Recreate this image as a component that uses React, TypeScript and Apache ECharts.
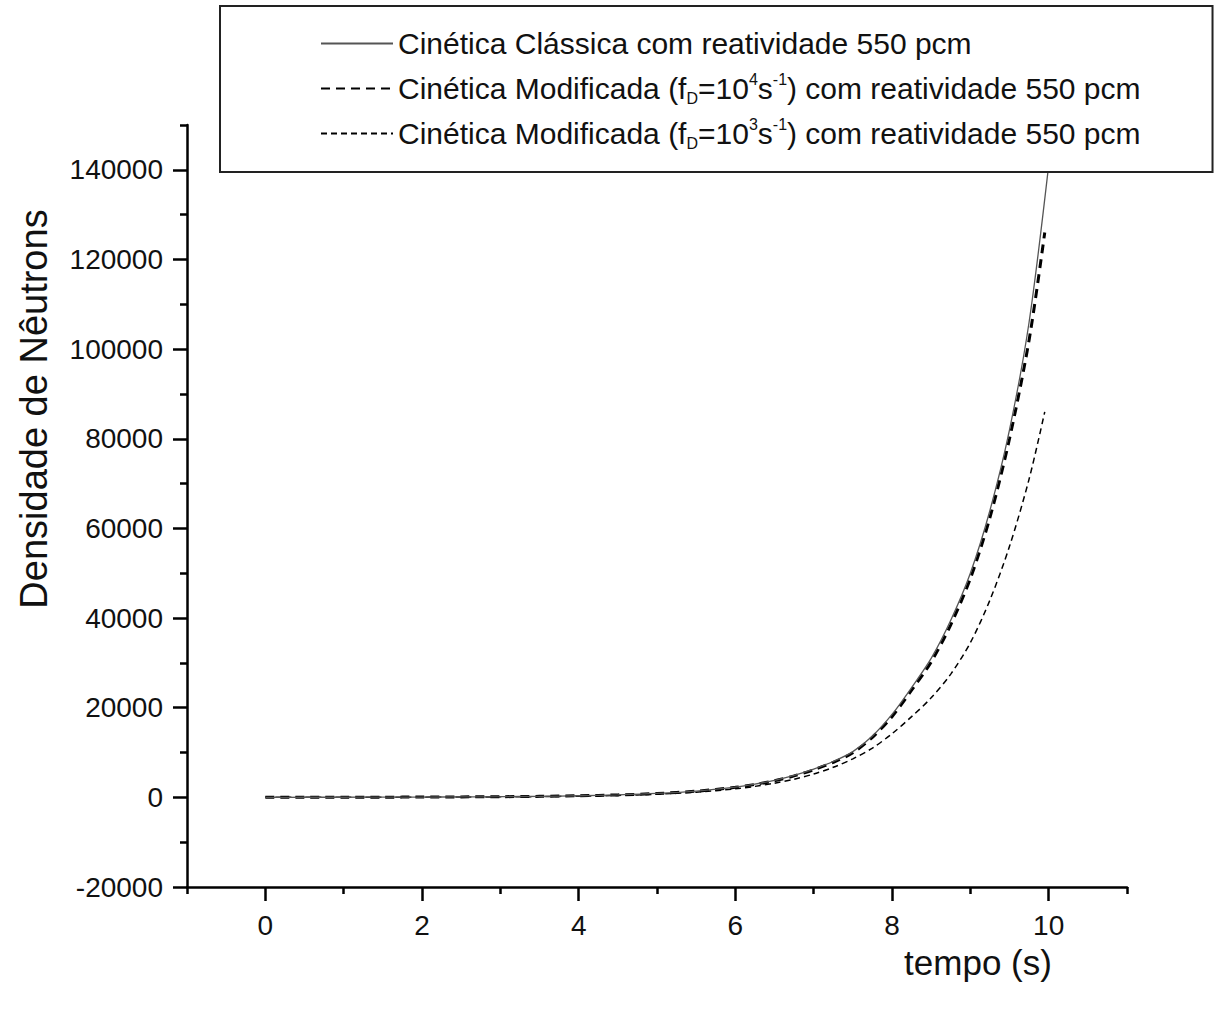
import React, { useEffect, useRef } from "react";
import * as echarts from "echarts";

// Tempo (s) de cada ponto das curvas
const tempoClassica = [0, 0.5, 1, 1.5, 2, 2.5, 3, 3.5, 4, 4.5, 5, 5.5, 6, 6.25, 6.5, 6.75, 7, 7.25, 7.5, 7.75, 8, 8.25, 8.5, 8.75, 9, 9.25, 9.5, 9.75, 10];
const tempoModificada = [0, 0.5, 1, 1.5, 2, 2.5, 3, 3.5, 4, 4.5, 5, 5.5, 6, 6.25, 6.5, 6.75, 7, 7.25, 7.5, 7.75, 8, 8.25, 8.5, 8.75, 9, 9.25, 9.5, 9.75, 9.95];

// Densidade de nêutrons
const densidadeClassica = [10, 18, 28, 42, 65, 100, 150, 230, 360, 560, 880, 1400, 2300, 2950, 3800, 4900, 6300, 8000, 10200, 13700, 18500, 24500, 31000, 39500, 50000, 64000, 82000, 106000, 141000];
const densidadeFd1e4 = [10, 18, 28, 42, 64, 98, 147, 225, 350, 545, 860, 1370, 2240, 2880, 3700, 4780, 6150, 7800, 9950, 13400, 18000, 23900, 30200, 38500, 48800, 62400, 80000, 102000, 126000];
const densidadeFd1e3 = [10, 15, 22, 32, 48, 72, 110, 170, 270, 430, 700, 1150, 1900, 2450, 3150, 4050, 5200, 6700, 8600, 11000, 14200, 18000, 22200, 27500, 34500, 44000, 56000, 71000, 86000];

// Marcas dos eixos
const xTicksMaiores = [0, 2, 4, 6, 8, 10];
const xTicksMenores = [-1, 1, 3, 5, 7, 9, 11];
const yTicksMaiores = [-20000, 0, 20000, 40000, 60000, 80000, 100000, 120000, 140000];
const yTicksMenores = [-10000, 10000, 30000, 50000, 70000, 90000, 110000, 130000, 150000];

const nomes = [
  "Cinética Clássica com reatividade 550 pcm",
  "Cinética Modificada (f{sub|D}=10{sup|4}s{sup|-1}) com reatividade 550 pcm",
  "Cinética Modificada (f{sub|D}=10{sup|3}s{sup|-1}) com reatividade 550 pcm",
];

const FONTE = "'Liberation Sans', Arial, sans-serif";

const pares = (xs: number[], ys: number[]) => xs.map((x, i) => [x, ys[i]]);

export default function App() {
  const ref = useRef<HTMLDivElement>(null);

  useEffect(() => {
    if (!ref.current) return;
    const chart = echarts.init(ref.current, undefined, { renderer: "svg" });

    const eixoLinha = { show: true, onZero: false, lineStyle: { color: "#000", width: 2.5 } };
    const semLinha = { show: false, onZero: false };
    const minMax = { x: { min: -1, max: 11 }, y: { min: -20000, max: 150000 } };
    const traco = { color: "#000", width: 2.5 };

    chart.setOption({
      animation: false,
      backgroundColor: "#fff",
      grid: { left: 187, right: 89, top: 125, bottom: 125 },
      legend: {
        orient: "vertical",
        left: 220,
        top: 6,
        padding: [20, 72, 21, 100],
        itemGap: 10,
        itemWidth: 72,
        itemHeight: 14,
        backgroundColor: "#fff",
        borderColor: "#222",
        borderWidth: 2,
        borderRadius: 0,
        selectedMode: false,
        itemStyle: { opacity: 0 },
        data: nomes,
        textStyle: {
          fontFamily: FONTE,
          fontSize: 30,
          color: "#111",
          lineHeight: 35,
          rich: {
            sub: { fontFamily: FONTE, fontSize: 16, color: "#111", verticalAlign: "bottom", lineHeight: 35 },
            sup: { fontFamily: FONTE, fontSize: 16, color: "#111", verticalAlign: "top", lineHeight: 35 },
          },
        },
      },
      xAxis: [
        {
          type: "value",
          position: "bottom",
          ...minMax.x,
          axisLine: eixoLinha,
          splitLine: { show: false },
          axisTick: { show: true, inside: false, length: 14, customValues: xTicksMaiores, lineStyle: traco },
          axisLabel: { customValues: xTicksMaiores, fontFamily: FONTE, fontSize: 28, color: "#111", margin: 24 },
          name: "tempo (s)",
          nameLocation: "middle",
          nameGap: 58,
          nameTextStyle: { fontFamily: FONTE, fontSize: 35, color: "#111", padding: [0, 0, 0, 642] },
        },
        {
          type: "value",
          position: "bottom",
          ...minMax.x,
          axisLine: semLinha,
          splitLine: { show: false },
          axisTick: { show: true, inside: false, length: 7, customValues: xTicksMenores, lineStyle: traco },
          axisLabel: { show: false },
        },
      ],
      yAxis: [
        {
          type: "value",
          position: "left",
          ...minMax.y,
          axisLine: eixoLinha,
          splitLine: { show: false },
          axisTick: { show: true, inside: false, length: 14, customValues: yTicksMaiores, lineStyle: traco },
          axisLabel: { customValues: yTicksMaiores, fontFamily: FONTE, fontSize: 28, color: "#111", margin: 24, formatter: (v: number) => String(v) },
          name: "Densidade de Nêutrons",
          nameLocation: "middle",
          nameGap: 134,
          nameTextStyle: { fontFamily: FONTE, fontSize: 38, color: "#111", padding: [0, 0, 0, 194] },
        },
        {
          type: "value",
          position: "left",
          ...minMax.y,
          axisLine: semLinha,
          splitLine: { show: false },
          axisTick: { show: true, inside: false, length: 7, customValues: yTicksMenores, lineStyle: traco },
          axisLabel: { show: false },
        },
      ],
      series: [
        {
          name: nomes[0],
          type: "line",
          symbol: "none",
          smooth: 0.3,
          data: pares(tempoClassica, densidadeClassica),
          lineStyle: { color: "#555", width: 1.3, type: "solid" },
          itemStyle: { color: "#555" },
          z: 3,
        },
        {
          name: nomes[1],
          type: "line",
          symbol: "none",
          smooth: 0.3,
          data: pares(tempoModificada, densidadeFd1e4),
          lineStyle: { color: "#000", width: 3, type: [9, 6] },
          itemStyle: { color: "#000" },
          z: 2,
        },
        {
          name: nomes[2],
          type: "line",
          symbol: "none",
          smooth: 0.3,
          data: pares(tempoModificada, densidadeFd1e3),
          lineStyle: { color: "#000", width: 1.5, type: [6, 4] },
          itemStyle: { color: "#000" },
          z: 2,
        },
      ],
    });

    return () => chart.dispose();
  }, []);

  return (
    <div
      ref={ref}
      style={{ position: "fixed", left: 0, top: 0, width: 1216, height: 1012, background: "#fff" }}
    />
  );
}
